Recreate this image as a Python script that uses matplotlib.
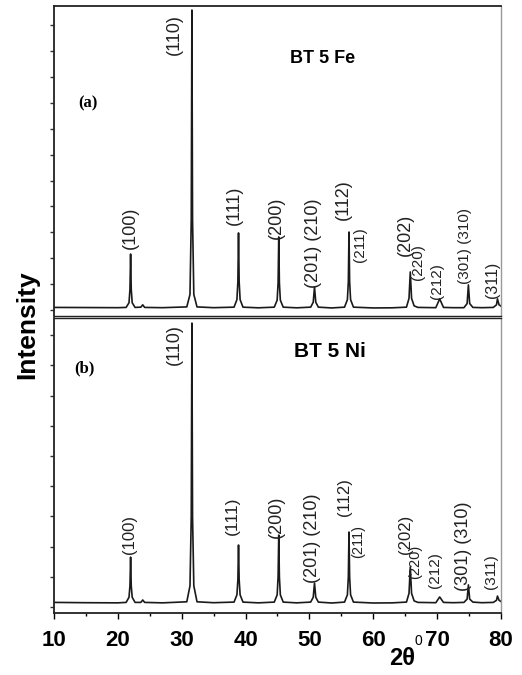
import matplotlib
matplotlib.use('Agg')
import matplotlib.pyplot as plt
from matplotlib.ticker import MultipleLocator, NullFormatter

plt.rcParams['font.family'] = ['Liberation Sans', 'DejaVu Sans']

# 2theta sampling of the traces (degrees)
two_theta = [
    10.0, 15.0, 20.0, 21.3, 21.75, 21.9, 22.0, 22.1, 22.25, 22.7,
    23.6, 23.9, 24.2, 27.0, 30.8, 31.3, 31.5, 31.6, 31.7, 31.9, 32.4,
    35.0, 38.2, 38.65, 38.8, 38.9, 39.0, 39.15, 39.6,
    42.0, 44.5, 44.95, 45.1, 45.2, 45.3, 45.45, 45.9,
    48.0, 50.2, 50.6, 50.8, 51.0, 51.4,
    53.5, 55.5, 55.95, 56.1, 56.2, 56.3, 56.45, 56.9,
    60.0, 63.0, 65.2, 65.6, 65.8, 66.0, 66.4, 67.0,
    69.8, 70.4, 71.0, 72.5,
    74.2, 74.7, 74.9, 75.1, 75.6, 77.0,
    78.8, 79.3, 79.45, 79.7, 80.0,
]

# (a) BT 5 Fe intensity (counts)
fe_counts = [
    100, 95, 90, 100, 280, 800, 2160, 800, 280, 100,
    110, 200, 100, 90, 120, 600, 3500, 11580, 3500, 600, 120,
    90, 110, 400, 1100, 2975, 1100, 400, 110,
    85, 110, 380, 1050, 2820, 1050, 380, 110,
    85, 110, 300, 890, 300, 110,
    80, 110, 400, 1100, 3010, 1100, 400, 110,
    80, 85, 110, 450, 1470, 450, 160, 100,
    90, 430, 100, 90,
    90, 250, 970, 250, 100, 90,
    100, 200, 430, 200, 150,
]

# (b) BT 5 Ni intensity (counts)
ni_counts = [
    150, 140, 135, 150, 320, 700, 1650, 700, 320, 150,
    150, 230, 150, 135, 170, 700, 3000, 9400, 3000, 700, 170,
    140, 160, 400, 900, 2050, 900, 400, 160,
    135, 160, 400, 1000, 2380, 1000, 400, 160,
    135, 160, 320, 790, 320, 160,
    130, 160, 400, 1000, 2480, 1000, 400, 160,
    130, 135, 160, 450, 1320, 450, 200, 150,
    140, 330, 150, 140,
    150, 260, 730, 260, 160, 140,
    150, 220, 360, 220, 180,
]

hkl = ['(100)', '(110)', '(111)', '(200)', '(201) (210)', '(112)', '(211)',
       '(202)', '(220)', '(212)', '(301) (310)', '(311)']

# label anchor positions (deg, counts) and font sizes
fe_lab_x = [21.9, 28.9, 38.2, 44.8, 50.7, 55.3, 57.9, 65.1, 67.0, 70.0, 74.4, 78.7]
fe_lab_y = [3170, 10620, 4056, 3554, 2589, 4249, 2511, 2897, 1855, 1121, 2473, 1160]
fe_lab_size = [13, 13, 13, 13, 13, 13, 11, 13, 11, 11, 11, 11.5]
ni_lab_x = [21.9, 28.9, 38.0, 44.8, 50.5, 55.5, 57.6, 65.0, 66.6, 69.6, 74.2, 78.5]
ni_lab_y = [2383, 8674, 3012, 2979, 2283, 3641, 2151, 2400, 1480, 1224, 2019, 1158]
ni_lab_size = [12, 13, 12.5, 13, 13, 12, 10.5, 12, 10.5, 11, 13, 11]

fig = plt.figure(figsize=(5.22, 6.75), dpi=100)
ax1 = fig.add_axes([0.1034, 0.5319, 0.8563, 0.4593])
ax2 = fig.add_axes([0.1034, 0.0919, 0.8563, 0.4370])

panels = [
    (ax1, fe_counts, fe_lab_x, fe_lab_y, fe_lab_size, (-230, 11740),
     '(a)', (0.054, 0.687), 'BT 5 Fe', 13, (0.602, 0.832)),
    (ax2, ni_counts, ni_lab_x, ni_lab_y, ni_lab_size, (-200, 9570),
     '(b)', (0.045, 0.83), 'BT 5 Ni', 15, (0.617, 0.885)),
]
for ax, y, lx, ly, ls, ylim, tag, tagpos, title, tsize, tpos in panels:
    ax.plot(two_theta, y, color='#1a1a1a', lw=1.2)
    ax.set_xlim(10, 80)
    ax.set_ylim(*ylim)
    ax.yaxis.set_major_locator(MultipleLocator(1000))
    ax.yaxis.set_major_formatter(NullFormatter())
    ax.tick_params(axis='y', direction='out', length=3, width=1, color='#333333')
    for side in ['left', 'top', 'bottom']:
        ax.spines[side].set_linewidth(1.3)
        ax.spines[side].set_color('#222222')
    ax.spines['right'].set_color('#999999')
    ax.spines['right'].set_linewidth(1.0)
    for t, x0, y0, s in zip(hkl, lx, ly, ls):
        ax.text(x0, y0, t, rotation=90, ha='center', va='center',
                fontsize=s, color='#222222')
    ax.text(*tagpos, tag, transform=ax.transAxes,
            fontsize=12, fontweight='bold', family='Liberation Serif',
            ha='left', va='center')
    ax.text(*tpos, title, transform=ax.transAxes, fontsize=tsize,
            fontweight='bold', ha='center', va='center')

# the inner frame lines are thinner so the two panels show a double rule
ax1.spines['bottom'].set_linewidth(1.0)
ax2.spines['top'].set_linewidth(1.0)

ax1.tick_params(axis='x', bottom=False, labelbottom=False)
ax2.xaxis.set_major_locator(MultipleLocator(10))
ax2.xaxis.set_minor_locator(MultipleLocator(5))
ax2.tick_params(axis='x', which='major', direction='out', length=4, width=1,
                pad=8, labelsize=16)
ax2.tick_params(axis='x', which='minor', direction='out', length=2.5, width=1)
for lab in ax2.get_xticklabels():
    lab.set_fontweight('bold')

fig.text(0.053, 0.519, 'Intensity', rotation=90, ha='center', va='center',
         fontsize=19, fontweight='bold')
fig.text(0.771, 0.024, '2\u03b8', ha='center', va='center',
         fontsize=17, fontweight='bold')
fig.text(0.794, 0.050, '0', ha='left', va='center', fontsize=10)

fig.savefig('out.png', dpi=100)
